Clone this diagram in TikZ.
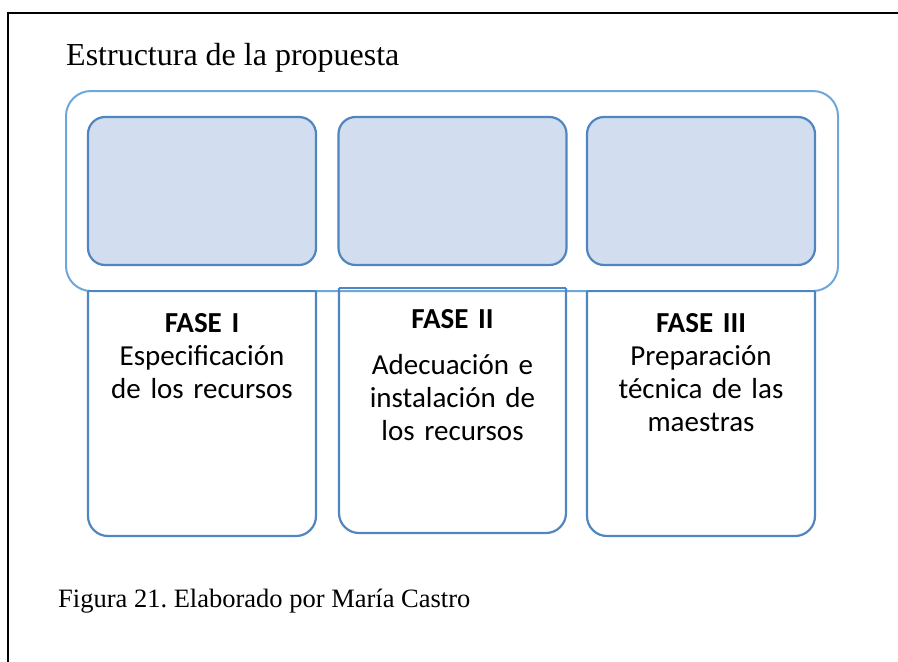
\documentclass[tikz,border=0pt]{standalone}
\usepackage{fontspec}
\setmainfont{Liberation Serif}
\newfontfamily\boxfont[WordSpace=0.8]{Carlito}
\frenchspacing
\definecolor{frameblue}{HTML}{6FA6DC}
\definecolor{lineblue}{HTML}{4F86C0}
\definecolor{fillblue}{HTML}{D2DEEF}
\tikzset{
  topbox/.style={draw=lineblue, fill=fillblue, line width=2.2pt, rounded corners=17pt,
    minimum width=228pt, minimum height=148pt, inner sep=0pt},
  phasebox/.style={draw=lineblue, line width=2.2pt, rounded corners=20pt},
  phasetext/.style={anchor=north, inner sep=0pt, align=center, text width=220pt,
    font=\boxfont\fontsize{29}{33}\selectfont}
}
\begin{document}
\begin{tikzpicture}[x=1pt,y=-1pt]
      \useasboundingbox (0,0) rectangle (898,662);
      % black frame
      \draw[line width=2pt] (905,13) -- (8,13) -- (8,670);
      \node[anchor=base west, inner sep=0pt, font=\fontsize{32}{36}\selectfont] (title) at (66,65) {Estructura de la propuesta};
      % outer container
      \draw[frameblue, line width=2pt, rounded corners=25pt] (66,91) rectangle (838,291);
      \node[topbox] (top1) at (202,191) {};
      \node[topbox] (top2) at (452.5,191) {};
      \node[topbox] (top3) at (701,191) {};
      % phase boxes
      \draw[phasebox] (88,291) -- (88,536) -- (316,536) -- (316,291);
      \draw[phasebox, sharp corners] (88,291) -- (316,291);
      \draw[phasebox] (339,288) -- (339,533) -- (566,533) -- (566,288);
      \draw[phasebox, sharp corners] (339,288) -- (566,288);
      \draw[phasebox] (587,291) -- (587,536) -- (815,536) -- (815,291);
      \draw[phasebox, sharp corners] (587,291) -- (815,291);
      \node[phasetext] (fase1) at (202,313.5) {\textbf{FASE I}\\Especificación\\de los recursos};
      \node[phasetext] (fase2) at (452.5,309.5) {\textbf{FASE II}\\[13pt]Adecuación e\\instalación de\\los recursos};
      \node[phasetext] (fase3) at (701,313.5) {\textbf{FASE III}\\Preparación\\técnica de las\\maestras};
      \node[anchor=base west, inner sep=0pt, font=\fontsize{26.5}{30}\selectfont] (caption) at (58,607) {Figura 21. Elaborado por María Castro};
\end{tikzpicture}
\end{document}
